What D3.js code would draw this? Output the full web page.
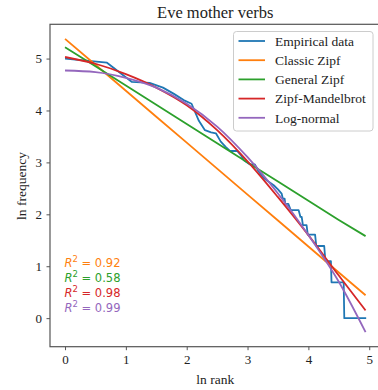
<!DOCTYPE html>
<html>
<head>
<meta charset="utf-8">
<script src="https://cdn.jsdelivr.net/npm/d3@7"></script>
<style>
  body { margin: 0; background: #fff; }
  svg text { font-family: "Liberation Serif", "DejaVu Serif", serif; fill: #222; }
</style>
</head>
<body>
<div id="chart"></div>
<script>
// empirical rank/frequency (ln), vertices of the plotted line
var empX = [0, 0.69, 1.10, 1.39, 1.61, 1.79, 1.95, 2.08, 2.20, 2.30, 2.40, 2.48, 2.56, 2.64, 2.71, 2.83, 2.89, 2.94,
            3.04, 3.12, 3.18, 3.26, 3.33, 3.43, 3.50, 3.56, 3.58, 3.61, 3.62, 3.67, 3.71, 3.84, 3.87, 3.89, 3.91, 3.97,
            3.99, 4.11, 4.13, 4.26, 4.28, 4.37, 4.38, 4.58, 4.59, 4.95];
var empY = [5.00, 4.92, 4.55, 4.53, 4.44, 4.32, 4.20, 4.13, 3.80, 3.62, 3.58, 3.56, 3.40, 3.30, 3.22, 3.22, 3.14, 3.04,
            2.96, 2.96, 2.83, 2.71, 2.64, 2.56, 2.48, 2.40, 2.30, 2.30, 2.20, 2.20, 2.08, 2.08, 1.95, 1.95, 1.79, 1.79,
            1.61, 1.61, 1.39, 1.39, 1.10, 1.10, 0.69, 0.69, 0, 0];

// fitted models, read at these ln rank positions
var fitX = [0, 0.5, 1, 1.5, 2, 2.5, 3, 3.5, 4, 4.5, 4.94];
var classicY = [5.38, 4.88, 4.38, 3.88, 3.38, 2.88, 2.38, 1.88, 1.38, 0.88, 0.44];
var generalY = [5.22, 4.85, 4.48, 4.11, 3.74, 3.37, 3.00, 2.63, 2.26, 1.89, 1.58];
var mandelY = [5.03, 4.90, 4.70, 4.44, 4.10, 3.62, 3.02, 2.33, 1.60, 0.82, 0.15];
var lognormY = [4.77, 4.74, 4.63, 4.44, 4.13, 3.69, 3.10, 2.40, 1.60, 0.70, -0.27];

var seriesNames = ["Empirical data", "Classic Zipf", "General Zipf", "Zipf-Mandelbrot", "Log-normal"];
var colors = ["#1f77b4", "#ff7f0e", "#2ca02c", "#d62728", "#9467bd"];
var r2Values = ["0.92", "0.58", "0.98", "0.99"];

var xTicks = [0, 1, 2, 3, 4, 5];
var yTicks = [0, 1, 2, 3, 4, 5];

var W = 378, H = 390;
var margin = {left: 50, top: 24.3, right: 380.6, bottom: 346.7};

var svg = d3.select("#chart").append("svg")
    .attr("width", W).attr("height", H);

var x = d3.scaleLinear().domain([-0.247, 5.187]).range([margin.left, margin.right]);
var y = d3.scaleLinear().domain([-0.55, 5.66]).range([margin.bottom, margin.top]);

svg.append("clipPath").attr("id", "plotclip")
  .append("rect")
    .attr("x", margin.left).attr("y", margin.top)
    .attr("width", margin.right - margin.left).attr("height", margin.bottom - margin.top);

// title
svg.append("text")
    .attr("x", (margin.left + margin.right) / 2).attr("y", 18)
    .attr("text-anchor", "middle")
    .style("font-size", "16.5px")
    .text("Eve mother verbs");

// axes
var xAxis = svg.append("g")
    .attr("transform", "translate(0," + margin.bottom + ")")
    .call(d3.axisBottom(x).tickValues(xTicks).tickSize(3.5).tickPadding(4.5).tickFormat(d3.format("d")));
var yAxis = svg.append("g")
    .attr("transform", "translate(" + margin.left + ",0)")
    .call(d3.axisLeft(y).tickValues(yTicks).tickSize(3.5).tickPadding(4.5).tickFormat(d3.format("d")));
[xAxis, yAxis].forEach(function (g) {
    g.select(".domain").remove();
    g.selectAll(".tick line").attr("stroke", "#555").attr("stroke-width", 1);
    g.selectAll(".tick text").style("font-size", "13px").attr("fill", "#222")
      .style("font-family", "Liberation Serif, serif");
});

// frame
svg.append("rect")
    .attr("x", margin.left).attr("y", margin.top)
    .attr("width", margin.right - margin.left).attr("height", margin.bottom - margin.top)
    .attr("fill", "none").attr("stroke", "#555").attr("stroke-width", 1.2);

svg.append("text")
    .attr("x", (margin.left + margin.right) / 2).attr("y", 384)
    .attr("text-anchor", "middle").style("font-size", "13.5px")
    .text("ln rank");
svg.append("text")
    .attr("transform", "translate(21,186) rotate(-90)")
    .attr("text-anchor", "middle").attr("dy", "0.35em").style("font-size", "13.5px")
    .text("ln frequency");

// lines
var line = d3.line().x(function (d) { return x(d[0]); }).y(function (d) { return y(d[1]); });
var plot = svg.append("g").attr("clip-path", "url(#plotclip)");

var series = [d3.zip(empX, empY), d3.zip(fitX, classicY), d3.zip(fitX, generalY),
              d3.zip(fitX, mandelY), d3.zip(fitX, lognormY)];
var curved = [false, false, false, true, true];

series.forEach(function (pts, i) {
    var l = curved[i] ? line.curve(d3.curveMonotoneX) : line.curve(d3.curveLinear);
    plot.append("path")
        .attr("d", l(pts))
        .attr("fill", "none")
        .attr("stroke", colors[i])
        .attr("stroke-width", 1.8)
        .attr("stroke-linejoin", "round");
});

// R^2 annotations
r2Values.forEach(function (v, i) {
    var t = svg.append("text")
        .attr("x", 64.5).attr("y", 266.5 + i * 15)
        .style("font-family", "DejaVu Sans, sans-serif")
        .style("font-size", "11.5px")
        .attr("fill", colors[i + 1]);
    t.append("tspan").style("font-style", "italic").attr("fill", colors[i + 1]).text("R");
    t.append("tspan").attr("dy", -4.5).style("font-size", "8.5px").attr("fill", colors[i + 1]).text("2");
    t.append("tspan").attr("dy", 4.5).attr("fill", colors[i + 1]).text(" = " + v);
});

// legend
var lg = svg.append("g");
lg.append("rect")
    .attr("x", 233.5).attr("y", 31.5).attr("width", 139.5).attr("height", 99.5)
    .attr("rx", 3).attr("fill", "#fff").attr("fill-opacity", 0.8)
    .attr("stroke", "#ccc").attr("stroke-width", 1);
seriesNames.forEach(function (name, i) {
    var yy = 41 + i * 19.2;
    lg.append("line")
        .attr("x1", 238.5).attr("x2", 265).attr("y1", yy).attr("y2", yy)
        .attr("stroke", colors[i]).attr("stroke-width", 1.8);
    lg.append("text")
        .attr("x", 275).attr("y", yy).attr("dy", "0.35em")
        .style("font-size", "13.5px")
        .text(name);
});
</script>
